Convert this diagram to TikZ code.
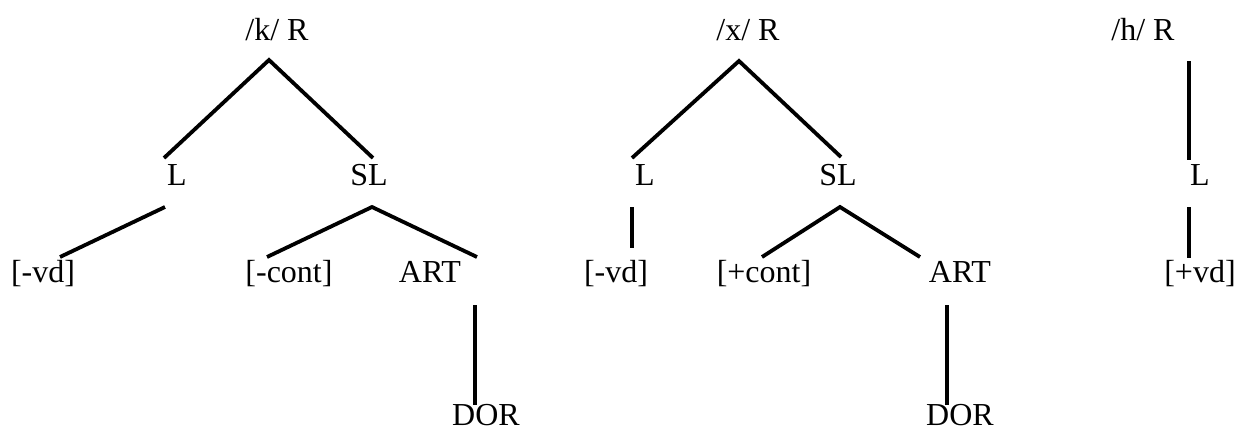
\documentclass[tikz,border=0pt]{standalone}
\usepackage{fontspec}
\setmainfont{Liberation Serif}
\usepackage{tikz}
\tikzset{lbl/.style = {inner sep=0, outer sep=0, anchor=base,
                       font=\fontsize{16}{19}\selectfont}}
\tikzset{branch/.style = {line width=1.9pt}}

\begin{document}
\begin{tikzpicture}[x=0.5pt, y=-0.5pt]
    \useasboundingbox (0, 0) rectangle (1239, 429);

    % /k/
    \node [lbl] (kR) at (277, 40) {/k/ R};
    \node [lbl] (kL) at (177, 185) {L};
    \node [lbl] (kSL) at (369, 185) {SL};
    \node [lbl] (kvd) at (43, 282) {[-vd]};
    \node [lbl] (kcont) at (289, 282) {[-cont]};
    \node [lbl] (kART) at (430, 282) {ART};
    \node [lbl] (kDOR) at (486, 425) {DOR};

    \draw [branch] ([xshift=-6.5pt, yshift=13.5pt]kL.base)
        -- ([xshift=-4pt, yshift=-10pt]kR.base)
        -- ([xshift=2pt, yshift=13.5pt]kSL.base);
    \draw [branch] ([xshift=-6pt, yshift=-11pt]kL.base)
        -- ([xshift=8.5pt, yshift=12.5pt]kvd.base);
    \draw [branch] ([xshift=-11pt, yshift=12.5pt]kcont.base)
        -- ([xshift=1.5pt, yshift=-11pt]kSL.base)
        -- ([xshift=23.5pt, yshift=12.5pt]kART.base);
    \draw [branch] ([xshift=22.5pt, yshift=-11.5pt]kART.base)
        -- ([xshift=-5.5pt, yshift=10pt]kDOR.base);

    % /x/
    \node [lbl] (xR) at (748, 40) {/x/ R};
    \node [lbl] (xL) at (645, 185) {L};
    \node [lbl] (xSL) at (838, 185) {SL};
    \node [lbl] (xvd) at (616, 282) {[-vd]};
    \node [lbl] (xcont) at (764, 282) {[+cont]};
    \node [lbl] (xART) at (960, 282) {ART};
    \node [lbl] (xDOR) at (960, 425) {DOR};

    \draw [branch] ([xshift=-6.5pt, yshift=13.5pt]xL.base)
        -- ([xshift=-4.5pt, yshift=-10.5pt]xR.base)
        -- ([xshift=1.5pt, yshift=14pt]xSL.base);
    \draw [branch] ([xshift=-6.5pt, yshift=-11pt]xL.base)
        -- ([xshift=8pt, yshift=17pt]xvd.base);
    \draw [branch] ([xshift=-1pt, yshift=12.5pt]xcont.base)
        -- ([xshift=1pt, yshift=-11pt]xSL.base)
        -- ([xshift=-20pt, yshift=12.5pt]xART.base);
    \draw [branch] ([xshift=-6.5pt, yshift=-11.5pt]xART.base)
        -- ([xshift=-6.5pt, yshift=10pt]xDOR.base);

    % /h/
    \node [lbl] (hR) at (1143, 40) {/h/ R};
    \node [lbl] (hL) at (1200, 185) {L};
    \node [lbl] (hvd) at (1200, 282) {[+vd]};

    \draw [branch] ([xshift=23pt, yshift=-10.5pt]hR.base)
        -- ([xshift=-5.5pt, yshift=12.5pt]hL.base);
    \draw [branch] ([xshift=-5.5pt, yshift=-11pt]hL.base)
        -- ([xshift=-5.5pt, yshift=12pt]hvd.base);
\end{tikzpicture}
\end{document}
